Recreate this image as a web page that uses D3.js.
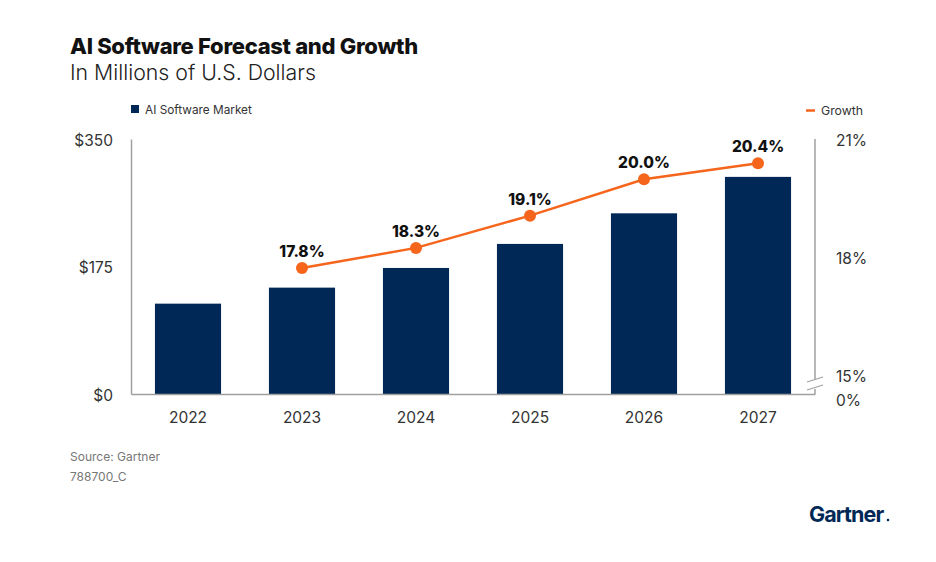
<!DOCTYPE html>
<html>
<head>
<meta charset="utf-8">
<script src="https://cdn.jsdelivr.net/npm/d3@7"></script>
<style>
  html, body { margin: 0; padding: 0; background: #fff; }
  svg { display: block; }
  text { font-family: Inter, "Noto Sans", sans-serif; }
</style>
</head>
<body>
<svg id="chart" width="936" height="562"></svg>
<script>
const years = ["2022", "2023", "2024", "2025", "2026", "2027"];
const marketValues = [124, 146, 173, 206, 248, 298];
const growthYears = ["2023", "2024", "2025", "2026", "2027"];
const growthValues = [17.8, 18.3, 19.1, 20.0, 20.4];
const leftTicks = [0, 175, 350];
const rightTicks = [15, 18, 21];

const navy = "#002856";
const orange = "#F5651C";
const axisGray = "#a0a0a0";
const textGray = "#333";

const svg = d3.select("#chart");

const x = d3.scaleBand().domain(years).range([131, 815]).paddingInner(0.42).paddingOuter(0.21);
const yL = d3.scaleLinear().domain([0, 350]).range([394, 139]);
const yR = d3.scaleLinear().domain([15, 21]).range([381, 139]);

// Title
svg.append("text").attr("x", 70).attr("y", 54).attr("font-size", 22).attr("font-weight", 800)
  .attr("fill", "#111").attr("letter-spacing", -0.3).text("AI Software Forecast and Growth");
svg.append("text").attr("x", 70).attr("y", 80).attr("font-size", 21.3).attr("font-weight", 300)
  .attr("fill", "#222").text("In Millions of U.S. Dollars");

// Legend
svg.append("rect").attr("x", 131).attr("y", 105).attr("width", 8).attr("height", 8).attr("fill", navy);
svg.append("text").attr("x", 145).attr("y", 113.5).attr("font-size", 11.8).attr("fill", textGray).text("AI Software Market");
svg.append("line").attr("x1", 806).attr("x2", 815).attr("y1", 110.5).attr("y2", 110.5)
  .attr("stroke", orange).attr("stroke-width", 2.5);
svg.append("text").attr("x", 821).attr("y", 114.5).attr("font-size", 12.3).attr("fill", textGray).text("Growth");

// Bars
svg.append("g").selectAll("rect").data(years).join("rect")
  .attr("x", d => x(d)).attr("width", x.bandwidth())
  .attr("y", (d, i) => yL(marketValues[i]))
  .attr("height", (d, i) => yL(0) - yL(marketValues[i]))
  .attr("fill", navy);

// Left axis
const leftAxis = d3.axisLeft(yL).tickValues(leftTicks).tickSize(0).tickPadding(18)
  .tickFormat(d => "$" + d);
const gL = svg.append("g").attr("transform", "translate(131,0)").call(leftAxis);
gL.select(".domain").attr("stroke", axisGray).attr("stroke-width", 1.5);
gL.selectAll("text").attr("font-size", 15.5).attr("fill", textGray).attr("font-family", "Inter, sans-serif")
  .attr("dy", "0.4em");

// Bottom axis
const bottomAxis = d3.axisBottom(x).tickSize(0).tickPadding(20);
const gB = svg.append("g").attr("transform", "translate(0,394)").call(bottomAxis);
gB.select(".domain").attr("stroke", axisGray).attr("stroke-width", 1.5);
gB.selectAll("text").attr("font-size", 15.5).attr("fill", textGray).attr("font-family", "Inter, sans-serif")
  .attr("dy", "0.6em");

// Right axis
const rightAxis = d3.axisRight(yR).tickValues(rightTicks).tickSize(0).tickPadding(21)
  .tickFormat(d => d + "%");
const gR = svg.append("g").attr("transform", "translate(815,0)").call(rightAxis);
gR.select(".domain").remove();
gR.selectAll("text").attr("font-size", 15.5).attr("fill", textGray).attr("font-family", "Inter, sans-serif")
  .attr("dy", d => d === 15 ? "0.05em" : (d === 18 ? "0.25em" : "0.4em"));
// right axis line with break
svg.append("line").attr("x1", 815).attr("x2", 815).attr("y1", 139).attr("y2", 379)
  .attr("stroke", axisGray).attr("stroke-width", 1.5);
svg.append("line").attr("x1", 815).attr("x2", 815).attr("y1", 389).attr("y2", 394)
  .attr("stroke", axisGray).attr("stroke-width", 1.5);
svg.append("line").attr("x1", 807).attr("x2", 823).attr("y1", 382).attr("y2", 377)
  .attr("stroke", axisGray).attr("stroke-width", 1.3);
svg.append("line").attr("x1", 807).attr("x2", 823).attr("y1", 390).attr("y2", 385)
  .attr("stroke", axisGray).attr("stroke-width", 1.3);
svg.append("text").attr("x", 836).attr("y", 406).attr("font-size", 15.5).attr("fill", textGray).text("0%");

// Growth line
const cx = d => x(d) + x.bandwidth() / 2;
const line = d3.line().x(d => cx(d[0])).y(d => yR(d[1]));
const pts = growthYears.map((d, i) => [d, growthValues[i]]);
svg.append("path").datum(pts).attr("d", line).attr("fill", "none")
  .attr("stroke", orange).attr("stroke-width", 2.5);
svg.append("g").selectAll("circle").data(pts).join("circle")
  .attr("cx", d => cx(d[0])).attr("cy", d => yR(d[1])).attr("r", 6).attr("fill", orange);
svg.append("g").selectAll("text").data(pts).join("text")
  .attr("x", d => cx(d[0])).attr("y", d => yR(d[1]) - 11)
  .attr("text-anchor", "middle").attr("font-size", 15.5).attr("font-weight", 800)
  .attr("fill", "#111").text(d => d[1].toFixed(1) + "%");

// Footer
svg.append("text").attr("x", 70).attr("y", 461).attr("font-size", 12).attr("fill", "#777").text("Source: Gartner");
svg.append("text").attr("x", 70).attr("y", 481).attr("font-size", 12).attr("fill", "#777").text("788700_C");

// Logo
svg.append("text").attr("x", 809).attr("y", 522).attr("font-size", 21.5).attr("font-weight", 700)
  .attr("fill", navy).attr("letter-spacing", -0.9).text("Gartner");
svg.append("circle").attr("cx", 888).attr("cy", 520).attr("r", 1.3).attr("fill", navy);
</script>
</body>
</html>
